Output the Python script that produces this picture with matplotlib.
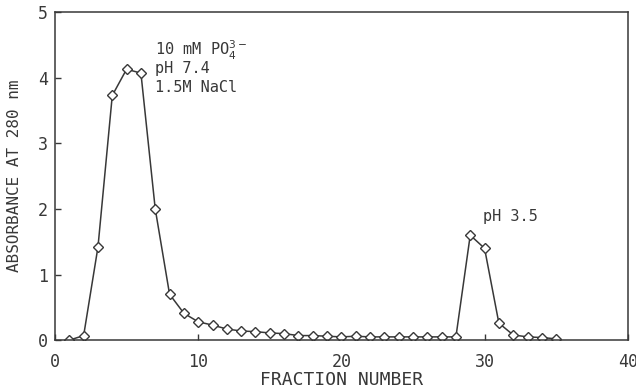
import matplotlib.pyplot as plt

fraction = list(range(1, 36))
absorbance = [0.0, 0.07, 1.42, 3.73, 4.13, 4.07, 2.0, 0.7, 0.41, 0.28,
              0.23, 0.17, 0.14, 0.13, 0.11, 0.10, 0.07, 0.07, 0.06, 0.05,
              0.06, 0.05, 0.05, 0.05, 0.05, 0.05, 0.05, 0.05, 1.6, 1.4,
              0.26, 0.08, 0.05, 0.04, 0.02]

ink = '#383838'
plt.rcParams['font.family'] = ['DejaVu Sans Mono', 'DejaVu Sans']

fig = plt.figure(figsize=(6.36, 3.91), dpi=100)
ax = fig.add_axes([0.0865, 0.130, 0.9005, 0.839])

ax.plot(fraction, absorbance, color=ink, lw=1.1, marker='D', ms=5.5,
        mfc='white', mec=ink, mew=1.0)

ax.set_xlim(0, 40)
ax.set_ylim(0, 5)
ax.set_xticks([0, 10, 20, 30, 40])
ax.set_yticks([0, 1, 2, 3, 4, 5])
ax.tick_params(direction='in', length=4, color=ink, labelcolor=ink,
               labelsize=12, width=1)
ax.tick_params(axis='x', pad=9)
ax.tick_params(axis='y', pad=5)
for s in ax.spines.values():
    s.set_color(ink)
    s.set_linewidth(1.1)

ax.set_xlabel('FRACTION NUMBER', color=ink, fontsize=13)
ax.set_ylabel('ABSORBANCE AT 280 nm', color=ink, fontsize=11.5)
ax.xaxis.set_label_coords(0.5, -0.095)
ax.yaxis.set_label_coords(-0.058, 0.5)

ax.text(7.0, 4.34, r'10 mM PO$_4^{3-}$', color=ink, fontsize=11,
        va='baseline')
ax.text(7.0, 4.07, 'pH 7.4', color=ink, fontsize=11, va='baseline')
ax.text(7.0, 3.78, '1.5M NaCl', color=ink, fontsize=11, va='baseline')
ax.text(29.9, 1.82, 'pH 3.5', color=ink, fontsize=11, va='baseline')

fig.savefig('out.png', dpi=100)
